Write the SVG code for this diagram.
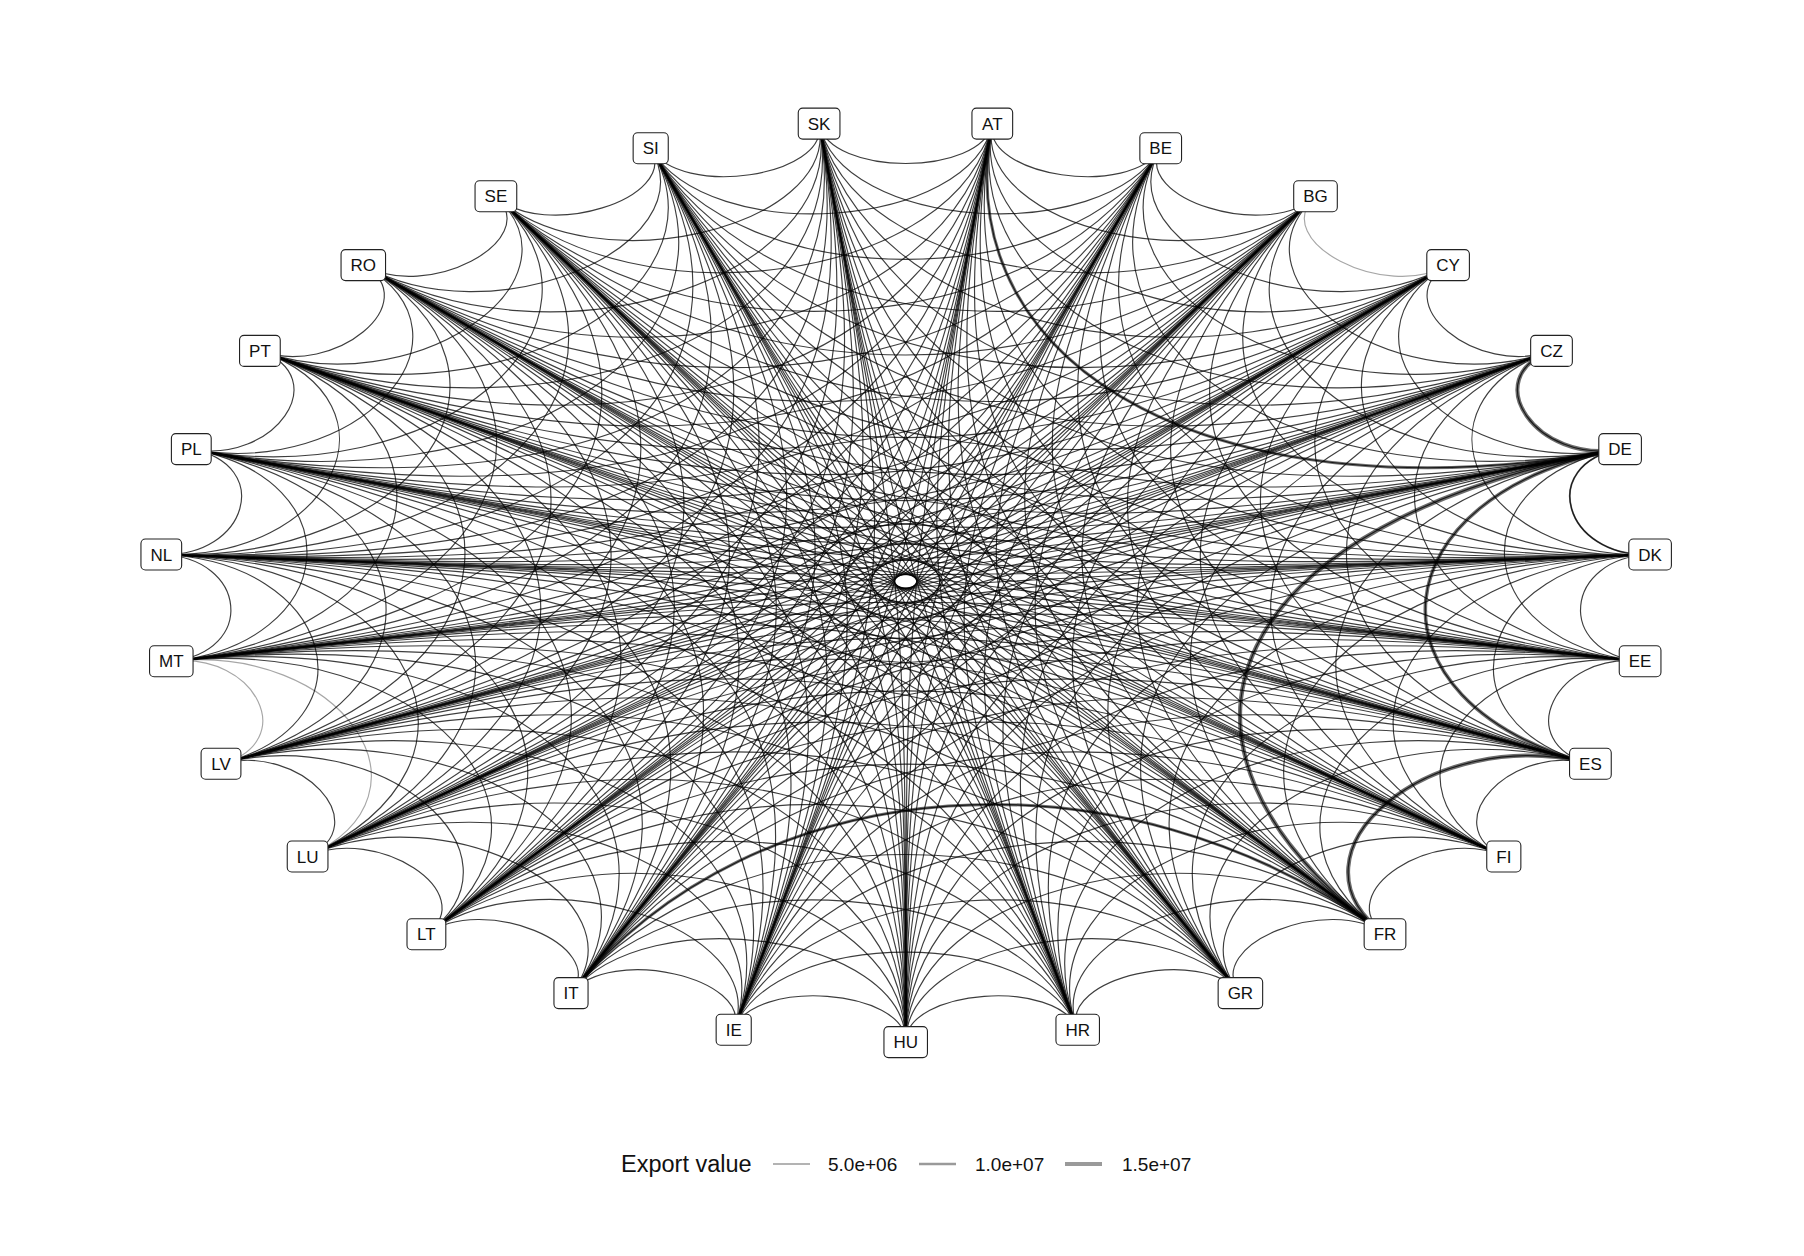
<svg xmlns="http://www.w3.org/2000/svg" xmlns:xlink="http://www.w3.org/1999/xlink" width="1804" height="1256" viewBox="0 0 1804 1256">
<style>
.e{fill:none;vector-effect:non-scaling-stroke}
.node rect{fill:#fff;stroke:#222;stroke-width:1.1}
.node text{font-family:"Liberation Sans",Arial,sans-serif;font-size:17px;fill:#111;text-anchor:middle}
.lg{font-family:"Liberation Sans",Arial,sans-serif;fill:#111}
.t{stroke:#000;stroke-opacity:.58}
.l{stroke-opacity:.35}
</style>
<defs>
<path id="k1" class="e" d="M1000 0C883.9 0 860.1 203.8 973 230.6"/>
<path id="k2" class="e" d="M1000 0C769.4 0 687.6 345.3 893.6 448.8"/>
<path id="k3" class="e" d="M1000 0C658 0 504 422.9 766 642.8"/>
<path id="k4" class="e" d="M1000 0C551.2 0 329.2 442.1 597.2 802.1"/>
<path id="k5" class="e" d="M1000 0C450.5 0 178.4 413.7 396.1 918.2"/>
<path id="k6" class="e" d="M1000 0C357.2 0 62 351.8 173.6 984.8"/>
<path id="k7" class="e" d="M1000 0C272.6 0 -15.9 272.2 -58.1 998.3"/>
<path id="k8" class="e" d="M1000 0C197.9 0 -56.8 189.6 -286.8 958"/>
<path id="k9" class="e" d="M1000 0C134 0 -67 116 -500 866"/>
<path id="k10" class="e" d="M1000 0C81.8 0 -56.1 59.5 -686.2 727.4"/>
<path id="k11" class="e" d="M1000 0C42 0 -35.1 23.1 -835.5 549.5"/>
<path id="k12" class="e" d="M1000 0C15.2 0 -14.3 5.2 -939.7 342"/>
<path id="k13" class="e" d="M1000 0C1.7 0 -1.7 0.2 -993.2 116.1"/>
<g id="fan3">
<use href="#k3"/><use href="#k4"/><use href="#k5"/><use href="#k6"/><use href="#k7"/><use href="#k8"/><use href="#k9"/><use href="#k10"/><use href="#k11"/><use href="#k12"/><use href="#k13"/>
</g>
<g id="fan">
<use href="#k1"/><use href="#k2"/><use href="#fan3"/>
</g>
</defs>
<rect width="1804" height="1256" fill="#fff"/>
<g id="connectors" transform="translate(905.7 581.3) scale(0.7457 0.4608)" stroke="#000" stroke-opacity="0.76" stroke-width="1.15" fill="none">
<use href="#fan" transform="rotate(276.667)"/>
<use href="#fan" transform="rotate(290)"/>
<g transform="rotate(303.333)"><use href="#k1" class="l"/><use href="#k2"/><use href="#fan3"/></g>
<use href="#fan" transform="rotate(316.667)"/>
<use href="#fan" transform="rotate(330)"/>
<use href="#fan" transform="rotate(343.333)"/>
<use href="#fan" transform="rotate(356.667)"/>
<use href="#fan" transform="rotate(10)"/>
<use href="#fan" transform="rotate(23.333)"/>
<use href="#fan" transform="rotate(36.667)"/>
<use href="#fan" transform="rotate(50)"/>
<use href="#fan" transform="rotate(63.333)"/>
<use href="#fan" transform="rotate(76.667)"/>
<use href="#fan" transform="rotate(90)"/>
<use href="#fan" transform="rotate(103.333)"/>
<use href="#fan" transform="rotate(116.667)"/>
<use href="#fan" transform="rotate(130)"/>
<g transform="rotate(143.333)"><use href="#k1"/><use href="#k2" class="l"/><use href="#fan3"/></g>
<g transform="rotate(156.667)"><use href="#k1" class="l"/><use href="#k2"/><use href="#fan3"/></g>
<use href="#fan" transform="rotate(170)"/>
<use href="#fan" transform="rotate(183.333)"/>
<use href="#fan" transform="rotate(196.667)"/>
<use href="#fan" transform="rotate(210)"/>
<use href="#fan" transform="rotate(223.333)"/>
<use href="#fan" transform="rotate(236.667)"/>
<use href="#fan" transform="rotate(250)"/>
<use href="#fan" transform="rotate(263.333)"/>
<use href="#k1" class="t" stroke-width="4" transform="rotate(330)"/>
<use href="#k1" class="t" stroke-width="1.8" transform="rotate(343.333)"/>
<use href="#k3" class="t" stroke-width="3.6" transform="rotate(343.333)"/>
<use href="#k5" class="t" stroke-width="4.2" transform="rotate(343.333)"/>
<use href="#k2" class="t" stroke-width="4" transform="rotate(23.333)"/>
<use href="#k5" class="t" stroke-width="3" transform="rotate(276.667)"/>
<use href="#k5" class="t" stroke-width="3" transform="rotate(50)"/>
</g>
<g id="nodes">
<g id="node-AT" class="node" transform="translate(992.3 123.6)"><rect x="-20.35" y="-15.5" width="40.7" height="31" rx="4.5"/><text y="6.1">AT</text></g>
<g id="node-BE" class="node" transform="translate(1160.7 148.3)"><rect x="-20.85" y="-15.5" width="41.7" height="31" rx="4.5"/><text y="6.1">BE</text></g>
<g id="node-BG" class="node" transform="translate(1315.5 196.3)"><rect x="-21.8" y="-15.5" width="43.6" height="31" rx="4.5"/><text y="6.1">BG</text></g>
<g id="node-CY" class="node" transform="translate(1448.1 265.1)"><rect x="-21.3" y="-15.5" width="42.6" height="31" rx="4.5"/><text y="6.1">CY</text></g>
<g id="node-CZ" class="node" transform="translate(1551.5 350.9)"><rect x="-20.85" y="-15.5" width="41.7" height="31" rx="4.5"/><text y="6.1">CZ</text></g>
<g id="node-DE" class="node" transform="translate(1620.1 449.1)"><rect x="-21.3" y="-15.5" width="42.6" height="31" rx="4.5"/><text y="6.1">DE</text></g>
<g id="node-DK" class="node" transform="translate(1650.1 554.5)"><rect x="-21.3" y="-15.5" width="42.6" height="31" rx="4.5"/><text y="6.1">DK</text></g>
<g id="node-EE" class="node" transform="translate(1640.1 661.3)"><rect x="-20.85" y="-15.5" width="41.7" height="31" rx="4.5"/><text y="6.1">EE</text></g>
<g id="node-ES" class="node" transform="translate(1590.4 763.8)"><rect x="-20.85" y="-15.5" width="41.7" height="31" rx="4.5"/><text y="6.1">ES</text></g>
<g id="node-FI" class="node" transform="translate(1503.8 856.5)"><rect x="-17.05" y="-15.5" width="34.1" height="31" rx="4.5"/><text y="6.1">FI</text></g>
<g id="node-FR" class="node" transform="translate(1385 934.3)"><rect x="-20.85" y="-15.5" width="41.7" height="31" rx="4.5"/><text y="6.1">FR</text></g>
<g id="node-GR" class="node" transform="translate(1240.4 993.1)"><rect x="-22.25" y="-15.5" width="44.5" height="31" rx="4.5"/><text y="6.1">GR</text></g>
<g id="node-HR" class="node" transform="translate(1077.7 1029.7)"><rect x="-21.75" y="-15.5" width="43.5" height="31" rx="4.5"/><text y="6.1">HR</text></g>
<g id="node-HU" class="node" transform="translate(905.7 1042.1)"><rect x="-21.75" y="-15.5" width="43.5" height="31" rx="4.5"/><text y="6.1">HU</text></g>
<g id="node-IE" class="node" transform="translate(733.7 1029.7)"><rect x="-17.55" y="-15.5" width="35.1" height="31" rx="4.5"/><text y="6.1">IE</text></g>
<g id="node-IT" class="node" transform="translate(571 993.1)"><rect x="-17.05" y="-15.5" width="34.1" height="31" rx="4.5"/><text y="6.1">IT</text></g>
<g id="node-LT" class="node" transform="translate(426.4 934.3)"><rect x="-19.4" y="-15.5" width="38.8" height="31" rx="4.5"/><text y="6.1">LT</text></g>
<g id="node-LU" class="node" transform="translate(307.6 856.5)"><rect x="-20.35" y="-15.5" width="40.7" height="31" rx="4.5"/><text y="6.1">LU</text></g>
<g id="node-LV" class="node" transform="translate(221 763.8)"><rect x="-19.9" y="-15.5" width="39.8" height="31" rx="4.5"/><text y="6.1">LV</text></g>
<g id="node-MT" class="node" transform="translate(171.3 661.3)"><rect x="-21.75" y="-15.5" width="43.5" height="31" rx="4.5"/><text y="6.1">MT</text></g>
<g id="node-NL" class="node" transform="translate(161.3 554.5)"><rect x="-20.35" y="-15.5" width="40.7" height="31" rx="4.5"/><text y="6.1">NL</text></g>
<g id="node-PL" class="node" transform="translate(191.3 449.1)"><rect x="-19.9" y="-15.5" width="39.8" height="31" rx="4.5"/><text y="6.1">PL</text></g>
<g id="node-PT" class="node" transform="translate(259.9 350.9)"><rect x="-20.35" y="-15.5" width="40.7" height="31" rx="4.5"/><text y="6.1">PT</text></g>
<g id="node-RO" class="node" transform="translate(363.3 265.1)"><rect x="-22.25" y="-15.5" width="44.5" height="31" rx="4.5"/><text y="6.1">RO</text></g>
<g id="node-SE" class="node" transform="translate(495.9 196.3)"><rect x="-20.85" y="-15.5" width="41.7" height="31" rx="4.5"/><text y="6.1">SE</text></g>
<g id="node-SI" class="node" transform="translate(650.7 148.3)"><rect x="-17.55" y="-15.5" width="35.1" height="31" rx="4.5"/><text y="6.1">SI</text></g>
<g id="node-SK" class="node" transform="translate(819.1 123.6)"><rect x="-20.85" y="-15.5" width="41.7" height="31" rx="4.5"/><text y="6.1">SK</text></g>
</g>
<g id="legend">
<text class="lg" x="621" y="1172" font-size="23.5">Export value</text>
<line x1="773" y1="1164" x2="810" y2="1164" stroke="#9a9a9a" stroke-width="1.7"/>
<text class="lg" x="828" y="1171" font-size="19">5.0e+06</text>
<line x1="919" y1="1164" x2="956" y2="1164" stroke="#9a9a9a" stroke-width="2.7"/>
<text class="lg" x="975" y="1171" font-size="19">1.0e+07</text>
<line x1="1065" y1="1164" x2="1102" y2="1164" stroke="#9a9a9a" stroke-width="4"/>
<text class="lg" x="1122" y="1171" font-size="19">1.5e+07</text>
</g>
</svg>
